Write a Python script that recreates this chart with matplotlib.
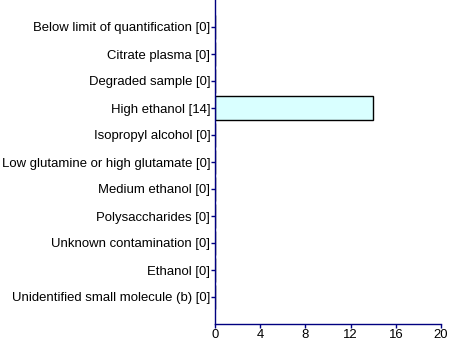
import matplotlib
matplotlib.use("Agg")
import matplotlib.pyplot as plt

categories = [
    "Below limit of quantification [0]",
    "Citrate plasma [0]",
    "Degraded sample [0]",
    "High ethanol [14]",
    "Isopropyl alcohol [0]",
    "Low glutamine or high glutamate [0]",
    "Medium ethanol [0]",
    "Polysaccharides [0]",
    "Unknown contamination [0]",
    "Ethanol [0]",
    "Unidentified small molecule (b) [0]",
]
values = [0, 0, 0, 14, 0, 0, 0, 0, 0, 0, 0]
xticks = [0, 4, 8, 12, 16, 20]

plt.rcParams['font.family'] = ['Liberation Sans', 'DejaVu Sans']

fig = plt.figure(figsize=(4.5, 3.42), dpi=100)
ax = fig.add_axes([215/450, 18/342, 226/450, 324/342])

pos = list(range(len(categories)))
ax.barh(pos, values, height=0.89, color="#D9FFFF", edgecolor="black", linewidth=1)
ax.set_yticks(pos)
ax.set_yticklabels(categories, fontsize=9.45)
ax.set_ylim(len(categories), -1)
ax.set_xlim(0, 20)
ax.set_xticks(xticks)
ax.set_xticklabels([str(t) for t in xticks], fontsize=9.45)

for s in ["top", "right"]:
    ax.spines[s].set_visible(False)
for s in ["left", "bottom"]:
    ax.spines[s].set_color("#000080")
    ax.spines[s].set_linewidth(1)
ax.tick_params(axis="both", colors="#000080", length=3, width=1, labelcolor="black", pad=0.5)

fig.savefig("out.png", dpi=100)
